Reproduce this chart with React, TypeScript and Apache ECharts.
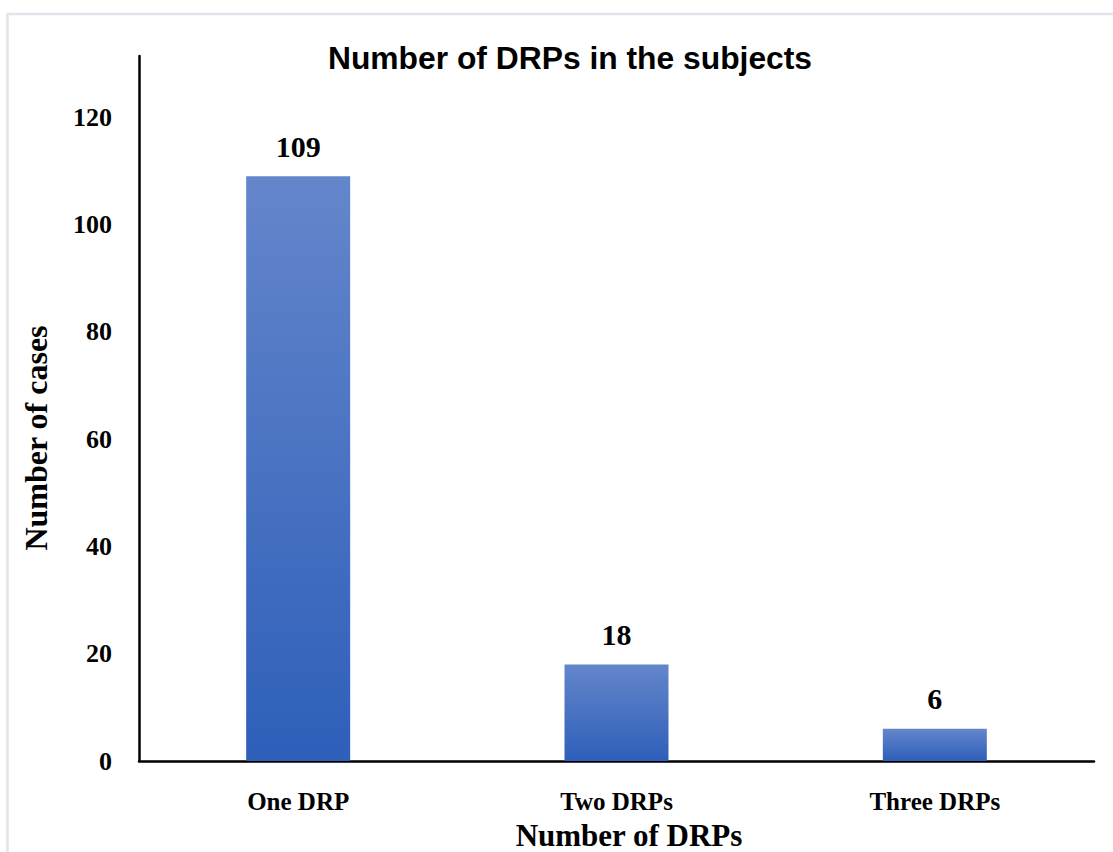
import React, { useEffect, useRef } from "react";
import * as echarts from "echarts";

const categories = ["One DRP", "Two DRPs", "Three DRPs"];
const caseCounts = [109, 18, 6];
const titleText = "Number of DRPs in the subjects";
const xAxisName = "Number of DRPs";
const yAxisName = "Number of cases";

const SERIF = "'Liberation Serif', 'Times New Roman', serif";

export default function App() {
  const ref = useRef<HTMLDivElement>(null);
  useEffect(() => {
    if (!ref.current) return;
    const chart = echarts.init(ref.current, undefined, { renderer: "svg" });
    chart.setOption({
      animation: false,
      backgroundColor: "#ffffff",
      title: {
        text: titleText,
        left: 565,
        top: 37,
        textAlign: "center",
        textStyle: {
          fontFamily: "'Liberation Sans', Arial, sans-serif",
          fontWeight: "bold",
          fontSize: 31.8,
          color: "#000",
        },
      },
      graphic: [
        {
          type: "rect",
          shape: { x: 7.5, y: 14, width: 1200, height: 900 },
          style: { fill: "none", stroke: "#dfe5eb", lineWidth: 2.5 },
          silent: true,
          z: -10,
        },
        {
          type: "text",
          x: 629,
          y: 835,
          style: {
            text: xAxisName,
            fontFamily: SERIF,
            fontWeight: "bold",
            fontSize: 31,
            fill: "#000",
            align: "center",
            verticalAlign: "middle",
          },
          silent: true,
        },
        {
          type: "text",
          x: 36,
          y: 438,
          rotation: Math.PI / 2,
          style: {
            text: yAxisName,
            fontFamily: SERIF,
            fontWeight: "bold",
            fontSize: 32,
            fill: "#000",
            align: "center",
            verticalAlign: "middle",
          },
          silent: true,
        },
      ],
      grid: { left: 139, right: 19, top: 56, bottom: 91, containLabel: false },
      xAxis: {
        type: "category",
        data: categories,
        axisLine: { show: true, lineStyle: { color: "#000", width: 2.5 } },
        axisTick: { show: false },
        axisLabel: { fontFamily: SERIF, fontWeight: "bold", fontSize: 25, color: "#000", margin: 28 },
      },
      yAxis: {
        type: "value",
        min: 0,
        max: 131.4,
        interval: 20,
        axisLine: { show: true, lineStyle: { color: "#000", width: 2.5 } },
        axisTick: { show: false },
        splitLine: { show: false },
        axisLabel: {
          fontFamily: SERIF,
          fontWeight: "bold",
          fontSize: 26,
          color: "#000",
          margin: 27,
          showMaxLabel: false,
        },
      },
      series: [
        {
          type: "bar",
          data: caseCounts,
          barWidth: 104,
          itemStyle: {
            color: new echarts.graphic.LinearGradient(0, 0, 0, 1, [
              { offset: 0, color: "#6486cb" },
              { offset: 1, color: "#2e5fb9" },
            ]),
          },
          label: {
            show: true,
            position: "top",
            distance: 15,
            fontFamily: SERIF,
            fontWeight: "bold",
            fontSize: 30,
            color: "#000",
          },
        },
      ],
    });
    return () => chart.dispose();
  }, []);
  return (
    <div
      ref={ref}
      style={{ position: "fixed", left: 0, top: 0, width: 1113, height: 852 }}
    />
  );
}
